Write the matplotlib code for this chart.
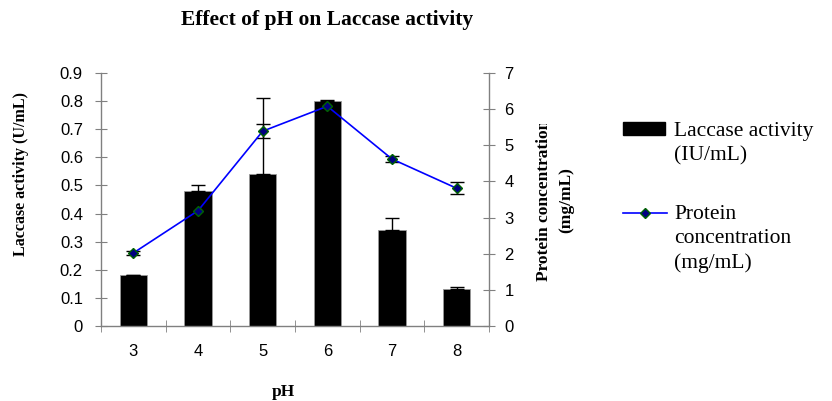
import numpy as np
import matplotlib
matplotlib.use('Agg')
import matplotlib.pyplot as plt
from matplotlib.lines import Line2D
from matplotlib.patches import Rectangle
from matplotlib.transforms import Bbox

# datos
ph = ['3', '4', '5', '6', '7', '8']
lacasa = [0.18, 0.48, 0.54, 0.80, 0.34, 0.13]
lacasa_err = [0.0, 0.02, 0.27, 0.005, 0.045, 0.01]
proteina = [2.02, 3.19, 5.39, 6.08, 4.62, 3.81]
proteina_err = [0.05, 0.05, 0.19, 0.05, 0.07, 0.17]

SERIF = 'Liberation Serif'
SANS = 'Liberation Sans'
GRIS = '#808080'

fig = plt.figure(figsize=(8.32, 4.01), dpi=100)
ax = fig.add_axes([101 / 832, 1 - 326 / 401, 388 / 832, 253 / 401])
ax2 = ax.twinx()

x = np.arange(len(ph))
ax.bar(x, lacasa, width=0.42, color='black', edgecolor='#999999', linewidth=0.6,
       yerr=[np.zeros(len(ph)), lacasa_err], capsize=5,
       error_kw=dict(ecolor='black', elinewidth=1, capthick=1))

ax2.errorbar(x, proteina, yerr=proteina_err, color='#0000ff', linewidth=1.2,
             marker='D', markersize=5.5, markerfacecolor='#000080',
             markeredgecolor='#006400', markeredgewidth=1,
             ecolor='black', elinewidth=1, capsize=5, capthick=1)

ax.set_xlim(-0.5, len(ph) - 0.5)
ax.set_ylim(0, 0.9)
ax2.set_ylim(0, 7)

ax.set_yticks(np.arange(0, 0.91, 0.1))
ax.set_yticklabels(['0'] + [f'{v:.1f}' for v in np.arange(0.1, 0.91, 0.1)])
ax2.set_yticks(range(0, 8))
ax.set_xticks(x)
ax.set_xticklabels(ph)
ax.set_xticks(np.arange(-0.5, len(ph)), minor=True)

for a in (ax, ax2):
    a.spines['top'].set_visible(False)
    for s in a.spines.values():
        s.set_color(GRIS)
        s.set_linewidth(1)
ax.spines['right'].set_visible(False)
ax2.spines['left'].set_visible(False)
ax2.spines['bottom'].set_visible(False)

ax.tick_params(axis='y', direction='inout', length=8, color=GRIS, pad=9,
               labelsize=12, labelfontfamily=SANS)
ax2.tick_params(axis='y', direction='inout', length=8, color=GRIS, pad=7,
                labelsize=12, labelfontfamily=SANS)
ax.tick_params(axis='x', which='major', length=0, pad=13,
               labelsize=12, labelfontfamily=SANS)
ax.tick_params(axis='x', which='minor', direction='inout', length=9, color=GRIS)

# textos
fig.text(327 / 832, 1 - 20 / 401, 'Effect of pH on Laccase activity',
         family=SERIF, weight='bold', fontsize=15.5, ha='center', va='center')
fig.text(283 / 832, 1 - 392 / 401, 'pH', family=SERIF, weight='bold',
         fontsize=12.5, ha='center', va='center')
fig.text(21 / 832, 1 - 174 / 401, 'Laccase activity (U/mL)', family=SERIF,
         weight='bold', fontsize=11.5, rotation=90, ha='center', va='center')
# la etiqueta derecha aparece recortada arriba en el original
t = fig.text(555 / 832, 1 - 200 / 401, 'Protein concentration\n(mg/mL)',
             family=SERIF, weight='bold', fontsize=12.5, rotation=90,
             ha='center', va='center', multialignment='center', linespacing=1.5)
t.set_clip_box(Bbox.from_extents(0, 0, 832, 401 - 123.5))
t.set_clip_on(True)

# leyenda
fig.patches.append(Rectangle((623 / 832, 1 - 135 / 401), 42 / 832, 13 / 401,
                             transform=fig.transFigure, color='black'))
fig.text(674 / 832, 1 - 122 / 401, 'Laccase activity\n(IU/mL)', family=SERIF,
         fontsize=15.5, ha='left', va='top', linespacing=1.36)
fig.lines.append(Line2D([623 / 832, 667 / 832], [1 - 213 / 401] * 2,
                        transform=fig.transFigure, color='#0000ff', linewidth=1.2))
fig.lines.append(Line2D([645 / 832], [1 - 213 / 401], transform=fig.transFigure,
                        marker='D', markersize=5.5, markerfacecolor='#000080',
                        markeredgecolor='#006400'))
fig.text(674 / 832, 1 - 205 / 401, 'Protein\nconcentration\n(mg/mL)', family=SERIF,
         fontsize=15.5, ha='left', va='top', linespacing=1.36)

fig.savefig('out.png', dpi=100)
